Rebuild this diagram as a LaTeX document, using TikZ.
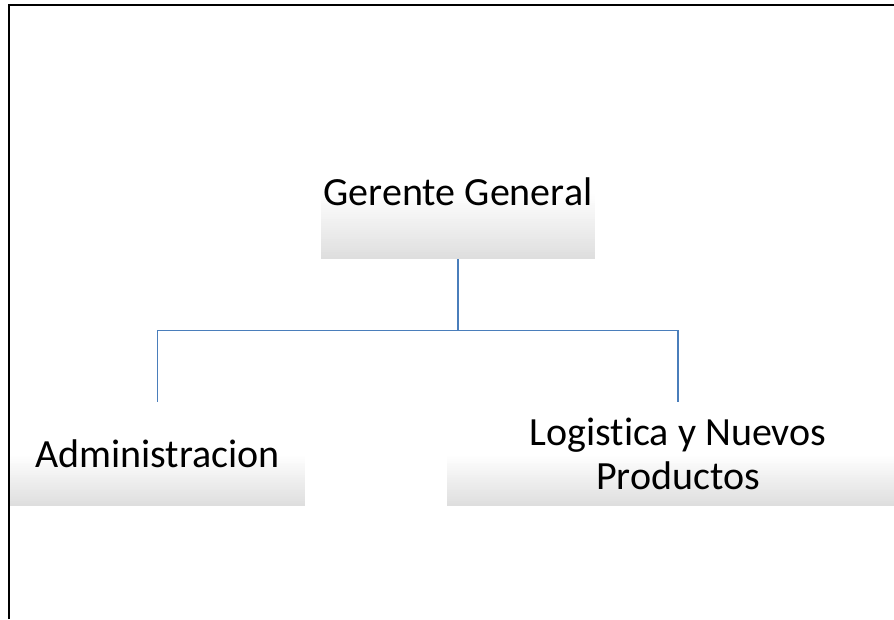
\documentclass[tikz,border=0pt]{standalone}
\usepackage{fontspec}
\setmainfont{Carlito}[Ligatures=NoCommon]
\usepackage{tikz}
\usetikzlibrary{calc}
\definecolor{azulorg}{HTML}{4A7EBB}
\definecolor{grisfondo}{HTML}{DEDEDE}
\tikzstyle{cargo} = [shape=rectangle,draw=none,inner sep=0pt,align=center,font=\fontsize{40}{44}\selectfont,
  path picture={\foreach \i in {0,...,29}{\pgfmathtruncatemacro\p{100*\i/29}
    \fill[grisfondo!\p!white]($(path picture bounding box.west)!{\i/30}!(path picture bounding box.south west)$) rectangle ($(path picture bounding box.east)!{(\i+1.2)/30}!(path picture bounding box.south east)$);}}]
\tikzstyle{conector} = [draw=azulorg,line width=1.3pt]
\tikzstyle{marco} = [line width=2pt,black]

\begin{document}
\begin{tikzpicture}[x=1pt,y=-1pt]
\useasboundingbox (0,0) rectangle (894,619);
\draw[marco](9,619)--(9,5)--(894,5);

\node [cargo,minimum width=274pt,minimum height=134pt](gg) at (458,192){Gerente General};
\node [cargo,minimum width=295pt,minimum height=104pt](ad) at (157.5,454){Administracion};
\node [cargo,minimum width=462pt,minimum height=104pt](lp) at (678,454){Logistica y Nuevos\\Productos};

\draw[conector](gg.south)-- ++(0,71)-|(ad.north);
\draw[conector](gg.south)-- ++(0,71)-|(lp.north);

\end{tikzpicture}
\end{document}
